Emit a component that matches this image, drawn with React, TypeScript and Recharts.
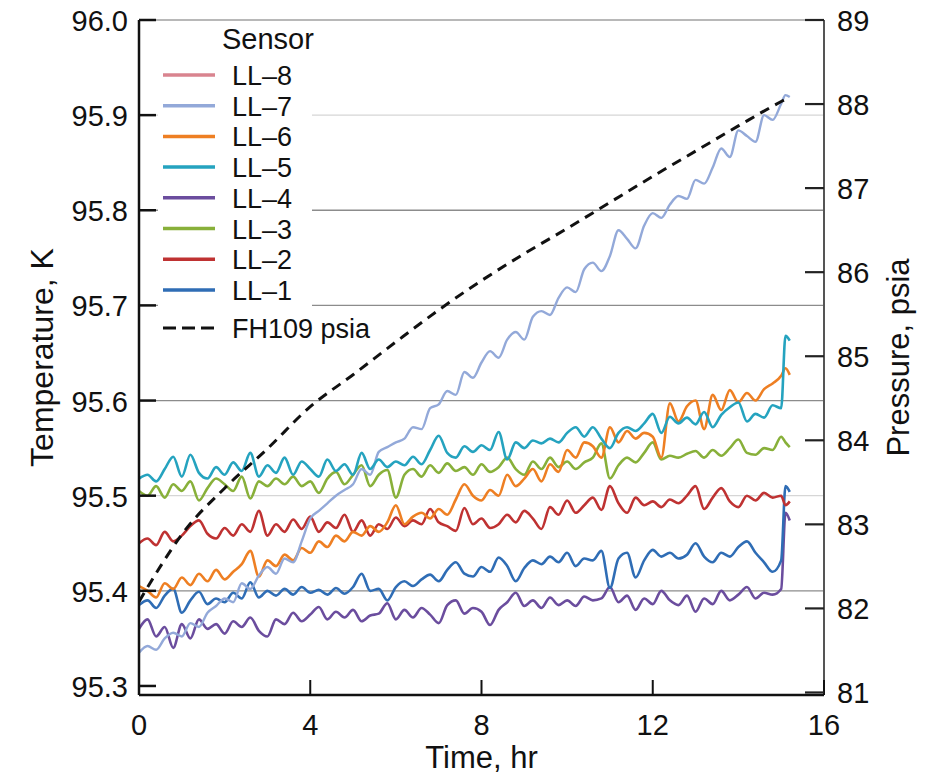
import React from 'react';
import { LineChart, Line, XAxis, YAxis, CartesianGrid } from 'recharts';

const FONT = '"Liberation Sans", Arial, Helvetica, sans-serif';

// Time, hr
const times = [
  0, 0.2, 0.4, 0.6, 0.8, 1, 1.2, 1.4, 1.6, 1.8,
  2, 2.2, 2.4, 2.6, 2.8, 3, 3.2, 3.4, 3.6, 3.8,
  4, 4.2, 4.4, 4.6, 4.8, 5, 5.2, 5.4, 5.6, 5.8,
  6, 6.2, 6.4, 6.6, 6.8, 7, 7.2, 7.4, 7.6, 7.8,
  8, 8.2, 8.4, 8.6, 8.8, 9, 9.2, 9.4, 9.6, 9.8,
  10, 10.2, 10.4, 10.6, 10.8, 11, 11.2, 11.4, 11.6, 11.8,
  12, 12.2, 12.4, 12.6, 12.8, 13, 13.2, 13.4, 13.6, 13.8,
  14, 14.2, 14.4, 14.6, 14.8, 15, 15.1, 15.2,
];

// Temperatures, K
const ll7 = [
  95.335, 95.342, 95.338, 95.350, 95.356, 95.352, 95.366, 95.362, 95.377, 95.384,
  95.392, 95.388, 95.408, 95.402, 95.416, 95.425, 95.418, 95.434, 95.430, 95.452,
  95.476, 95.484, 95.492, 95.500, 95.506, 95.512, 95.528, 95.522, 95.546, 95.551,
  95.556, 95.560, 95.572, 95.570, 95.592, 95.596, 95.610, 95.606, 95.630, 95.624,
  95.640, 95.652, 95.645, 95.664, 95.672, 95.664, 95.688, 95.694, 95.690, 95.708,
  95.719, 95.714, 95.738, 95.745, 95.736, 95.752, 95.779, 95.770, 95.760, 95.784,
  95.797, 95.792, 95.806, 95.815, 95.812, 95.832, 95.828, 95.845, 95.865, 95.856,
  95.884, 95.878, 95.872, 95.900, 95.895, 95.912, 95.921, 95.919,
];
const ll6 = [
  95.405, 95.400, 95.393, 95.408, 95.402, 95.414, 95.406, 95.418, 95.410, 95.422,
  95.412, 95.420, 95.428, 95.442, 95.415, 95.432, 95.426, 95.438, 95.432, 95.445,
  95.440, 95.452, 95.446, 95.458, 95.452, 95.462, 95.458, 95.468, 95.462, 95.472,
  95.490, 95.470, 95.478, 95.482, 95.476, 95.486, 95.480, 95.496, 95.512, 95.500,
  95.495, 95.506, 95.500, 95.522, 95.510, 95.518, 95.528, 95.515, 95.533, 95.525,
  95.548, 95.540, 95.556, 95.552, 95.540, 95.572, 95.556, 95.568, 95.560, 95.566,
  95.562, 95.540, 95.597, 95.578, 95.594, 95.600, 95.570, 95.606, 95.590, 95.611,
  95.598, 95.608, 95.600, 95.612, 95.618, 95.626, 95.634, 95.627,
];
const ll5 = [
  95.518, 95.522, 95.515, 95.528, 95.541, 95.520, 95.543, 95.524, 95.518, 95.530,
  95.522, 95.535, 95.526, 95.545, 95.520, 95.532, 95.524, 95.540, 95.522, 95.536,
  95.528, 95.520, 95.538, 95.526, 95.533, 95.522, 95.545, 95.528, 95.538, 95.530,
  95.536, 95.532, 95.541, 95.533, 95.548, 95.563, 95.545, 95.540, 95.552, 95.546,
  95.553, 95.548, 95.567, 95.538, 95.556, 95.550, 95.558, 95.555, 95.560, 95.556,
  95.566, 95.572, 95.562, 95.572, 95.560, 95.550, 95.566, 95.572, 95.568, 95.576,
  95.586, 95.566, 95.583, 95.576, 95.582, 95.575, 95.588, 95.572, 95.585, 95.593,
  95.598, 95.578, 95.586, 95.582, 95.595, 95.592, 95.668, 95.663,
];
const ll4 = [
  95.360, 95.370, 95.352, 95.362, 95.340, 95.365, 95.350, 95.370, 95.360, 95.365,
  95.355, 95.368, 95.362, 95.372, 95.358, 95.352, 95.370, 95.365, 95.377, 95.368,
  95.375, 95.383, 95.370, 95.378, 95.372, 95.380, 95.368, 95.374, 95.376, 95.387,
  95.370, 95.380, 95.372, 95.382, 95.375, 95.366, 95.385, 95.390, 95.376, 95.382,
  95.378, 95.364, 95.380, 95.388, 95.398, 95.384, 95.390, 95.382, 95.393, 95.385,
  95.390, 95.384, 95.394, 95.390, 95.392, 95.404, 95.388, 95.395, 95.380, 95.392,
  95.386, 95.400, 95.390, 95.385, 95.395, 95.378, 95.392, 95.386, 95.400, 95.390,
  95.396, 95.404, 95.392, 95.398, 95.396, 95.402, 95.482, 95.474,
];
const ll3 = [
  95.505, 95.500, 95.510, 95.498, 95.512, 95.505, 95.515, 95.495, 95.508, 95.518,
  95.512, 95.505, 95.520, 95.497, 95.515, 95.510, 95.518, 95.512, 95.520, 95.510,
  95.515, 95.503, 95.518, 95.525, 95.512, 95.522, 95.532, 95.510, 95.522, 95.527,
  95.498, 95.522, 95.528, 95.520, 95.532, 95.524, 95.534, 95.526, 95.530, 95.522,
  95.533, 95.525, 95.530, 95.540, 95.528, 95.522, 95.536, 95.528, 95.540, 95.530,
  95.536, 95.528, 95.535, 95.540, 95.555, 95.518, 95.532, 95.540, 95.535, 95.545,
  95.556, 95.538, 95.542, 95.540, 95.544, 95.547, 95.540, 95.548, 95.542, 95.550,
  95.559, 95.545, 95.543, 95.550, 95.548, 95.562, 95.556, 95.551,
];
const ll2 = [
  95.450, 95.455, 95.448, 95.462, 95.452, 95.458, 95.468, 95.474, 95.460, 95.455,
  95.466, 95.458, 95.470, 95.462, 95.484, 95.458, 95.470, 95.462, 95.475, 95.465,
  95.478, 95.462, 95.472, 95.466, 95.480, 95.462, 95.474, 95.458, 95.470, 95.465,
  95.477, 95.468, 95.474, 95.470, 95.486, 95.472, 95.468, 95.463, 95.487, 95.470,
  95.476, 95.466, 95.470, 95.480, 95.472, 95.484, 95.476, 95.465, 95.488, 95.480,
  95.495, 95.482, 95.490, 95.498, 95.485, 95.510, 95.492, 95.482, 95.498, 95.490,
  95.494, 95.488, 95.496, 95.492, 95.500, 95.510, 95.486, 95.498, 95.508, 95.494,
  95.488, 95.500, 95.495, 95.503, 95.498, 95.500, 95.490, 95.494,
];
const ll1 = [
  95.385, 95.390, 95.382, 95.395, 95.402, 95.377, 95.390, 95.399, 95.386, 95.392,
  95.388, 95.398, 95.392, 95.409, 95.393, 95.400, 95.395, 95.402, 95.396, 95.404,
  95.398, 95.401, 95.396, 95.403, 95.397, 95.404, 95.418, 95.400, 95.402, 95.390,
  95.404, 95.410, 95.405, 95.412, 95.417, 95.410, 95.422, 95.430, 95.418, 95.415,
  95.425, 95.420, 95.435, 95.426, 95.410, 95.424, 95.432, 95.428, 95.436, 95.430,
  95.440, 95.426, 95.434, 95.432, 95.442, 95.403, 95.434, 95.440, 95.414, 95.432,
  95.443, 95.436, 95.440, 95.434, 95.438, 95.450, 95.436, 95.430, 95.440, 95.436,
  95.446, 95.452, 95.440, 95.430, 95.420, 95.432, 95.510, 95.504,
];

// FH109 pressure, psia
const pressureTimes = [0, 0.5, 1, 2, 3, 4, 5, 6, 7, 8, 9, 10, 11, 12, 13, 14, 15, 15.15];
const pressureValues = [82.08, 82.5, 82.88, 83.43, 83.9, 84.4, 84.78, 85.17, 85.55, 85.9, 86.22, 86.52, 86.83, 87.14, 87.44, 87.74, 88.03, 88.07];

const xTicks = [0, 4, 8, 12, 16];
const tempTicks = [95.3, 95.4, 95.5, 95.6, 95.7, 95.8, 95.9, 96.0];
const pressTicks = [81, 82, 83, 84, 85, 86, 87, 88, 89];
const gridDark = [95.4, 95.6, 95.7, 95.8];
const gridLight = [95.5, 95.9];
const gridTop = [96.0];

const sensorNames = ['LL–8', 'LL–7', 'LL–6', 'LL–5', 'LL–4', 'LL–3', 'LL–2', 'LL–1'];
const pressureName = 'FH109 psia';

const COLORS: Record<string, string> = {
  'LL–8': '#d9848f',
  'LL–7': '#93a9d9',
  'LL–6': '#ee7f23',
  'LL–5': '#25a3bf',
  'LL–4': '#6b4d9e',
  'LL–3': '#88b03a',
  'LL–2': '#bf3232',
  'LL–1': '#2f6db5',
};

const seriesByName: Record<string, number[]> = {
  'LL–7': ll7,
  'LL–6': ll6,
  'LL–5': ll5,
  'LL–4': ll4,
  'LL–3': ll3,
  'LL–2': ll2,
  'LL–1': ll1,
};

const table = times.map((t, i) => {
  const row: Record<string, number> = { t };
  Object.keys(seriesByName).forEach((k) => {
    row[k] = seriesByName[k][i];
  });
  return row;
});
const pressureData = pressureTimes.map((t, i) => ({ t, p: pressureValues[i] }));

const drawOrder = ['LL–4', 'LL–1', 'LL–2', 'LL–3', 'LL–6', 'LL–7', 'LL–5'];

const TICK_FONT = 29;

const LeftTick = (props: any) => {
  const { x, y, payload } = props;
  return (
    <g>
      <line x1={x + 11} x2={x + 28} y1={y} y2={y} stroke="#111" strokeWidth={2.5} />
      <text x={x} y={y + 1} textAnchor="end" dominantBaseline="central" fontSize={TICK_FONT} fontFamily={FONT} fill="#111">
        {Number(payload.value).toFixed(1)}
      </text>
    </g>
  );
};
const RightTick = (props: any) => {
  const { x, y, payload } = props;
  return (
    <g>
      <line x1={x - 13} x2={x - 32} y1={y} y2={y} stroke="#222" strokeWidth={2.2} />
      <text x={x} y={y + 1} textAnchor="start" dominantBaseline="central" fontSize={TICK_FONT} fontFamily={FONT} fill="#111">
        {payload.value}
      </text>
    </g>
  );
};
const BottomTick = (props: any) => {
  const { x, y, payload } = props;
  return (
    <g>
      <line x1={x} x2={x} y1={y - 30} y2={y - 45} stroke="#111" strokeWidth={2} />
      <text x={x} y={y} textAnchor="middle" dominantBaseline="central" fontSize={TICK_FONT} fontFamily={FONT} fill="#111">
        {payload.value}
      </text>
    </g>
  );
};

const LeftTitle = (props: any) => {
  const vb = props.viewBox || {};
  const cx = vb.x + 42;
  const cy = vb.y + vb.height / 2;
  return (
    <text x={cx} y={cy} transform={`rotate(-90 ${cx} ${cy})`} textAnchor="middle" dominantBaseline="central" fontSize={32} fill="#111" fontFamily={FONT}>
      Temperature, K
    </text>
  );
};
const RightTitle = (props: any) => {
  const vb = props.viewBox || {};
  const cx = vb.x + 74;
  const cy = vb.y + vb.height / 2;
  return (
    <text x={cx} y={cy} transform={`rotate(-90 ${cx} ${cy})`} textAnchor="middle" dominantBaseline="central" fontSize={31} fill="#111" fontFamily={FONT}>
      Pressure, psia
    </text>
  );
};
const BottomTitle = (props: any) => {
  const vb = props.viewBox || {};
  const cx = vb.x + vb.width / 2;
  const cy = vb.y + 62;
  return (
    <text x={cx} y={cy} textAnchor="middle" dominantBaseline="central" fontSize={31} fill="#111" fontFamily={FONT}>
      Time, hr
    </text>
  );
};

const LegendBox = () => (
  <svg width={260} height={325} style={{ position: 'absolute', left: 158, top: 22 }}>
    <rect x={0} y={0} width={154} height={323} fill="#fff" />
    <text x={64} y={17} fontSize={29} fontFamily={FONT} fill="#111" dominantBaseline="central">
      Sensor
    </text>
    {sensorNames.map((n, i) => {
      const cy = 53 + i * 30.7;
      return (
        <g key={n}>
          <line x1={5} x2={57} y1={cy} y2={cy} stroke={COLORS[n]} strokeWidth={3.5} />
          <text x={74} y={cy + 1} fontSize={27} fontFamily={FONT} fill="#111" dominantBaseline="central">
            {n}
          </text>
        </g>
      );
    })}
    <line x1={5} x2={57} y1={306} y2={306} stroke="#111" strokeWidth={3} strokeDasharray="13 6" />
    <text x={74} y={307} fontSize={27} fontFamily={FONT} fill="#111" dominantBaseline="central">
      {pressureName}
    </text>
  </svg>
);

export default function App() {
  return (
    <div style={{ position: 'relative', width: 929, height: 776, margin: '-8px 0 0 -8px', fontFamily: FONT }}>
      <LineChart width={929} height={776} data={table} margin={{ top: 20, right: 0, bottom: 0, left: 0 }}>
        <CartesianGrid yAxisId="left" vertical={false} horizontalValues={gridLight} stroke="#d6d6d6" strokeWidth={1.2} />
        <CartesianGrid yAxisId="left" vertical={false} horizontalValues={gridDark} stroke="#8c8c8c" strokeWidth={1.3} />
        <CartesianGrid yAxisId="left" vertical={false} horizontalValues={gridTop} stroke="#a0a0a0" strokeWidth={1.5} />
        <XAxis
          dataKey="t"
          type="number"
          domain={[0, 16]}
          ticks={xTicks}
          interval={0}
          height={81}
          tickSize={0}
          tickMargin={30}
          tick={<BottomTick />}
          axisLine={{ stroke: '#111', strokeWidth: 2.5 }}
          tickLine={false}
          allowDataOverflow
          label={<BottomTitle />}
        />
        <YAxis
          yAxisId="left"
          orientation="left"
          type="number"
          domain={[95.2905, 96.0]}
          ticks={tempTicks}
          interval={0}
          width={139}
          tickSize={0}
          tickMargin={11}
          tick={<LeftTick />}
          axisLine={{ stroke: '#111', strokeWidth: 2.5 }}
          tickLine={false}
          allowDataOverflow
          label={<LeftTitle />}
        />
        <YAxis
          yAxisId="right"
          orientation="right"
          type="number"
          domain={[80.97, 89]}
          ticks={pressTicks}
          interval={0}
          width={105}
          tickSize={0}
          tickMargin={13}
          tick={<RightTick />}
          axisLine={{ stroke: '#555', strokeWidth: 2 }}
          tickLine={false}
          allowDataOverflow
          label={<RightTitle />}
        />
        {drawOrder.map((n) => (
          <Line
            key={n}
            yAxisId="left"
            dataKey={n}
            type="monotone"
            stroke={COLORS[n]}
            strokeWidth={n === 'LL–7' ? 2.4 : 2.6}
            dot={false}
            activeDot={false}
            isAnimationActive={false}
          />
        ))}
        <Line
          yAxisId="right"
          data={pressureData}
          dataKey="p"
          type="monotone"
          stroke="#111"
          strokeWidth={3}
          strokeDasharray="10 7"
          dot={false}
          activeDot={false}
          isAnimationActive={false}
        />
      </LineChart>
      <LegendBox />
    </div>
  );
}
